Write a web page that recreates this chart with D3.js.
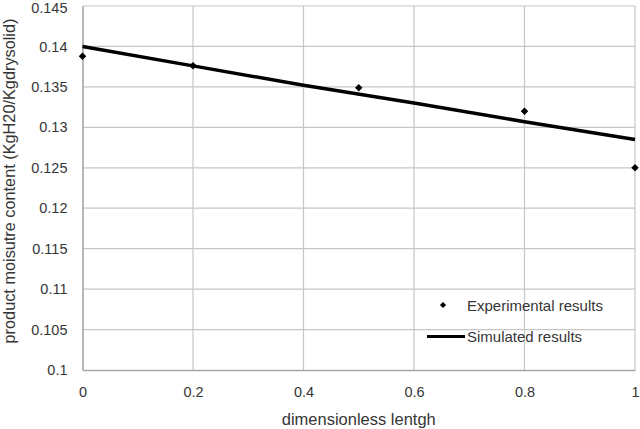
<!DOCTYPE html>
<html><head><meta charset="utf-8">
<script src="https://cdn.jsdelivr.net/npm/d3@7"></script>
<style>body{margin:0;background:#fff}svg{display:block}text{font-family:"Liberation Sans",Arial,sans-serif}</style>
</head><body><svg id="c" width="640" height="429"></svg>
<script>
const xTicks = [0, 0.2, 0.4, 0.6, 0.8, 1];
const yTicks = [0.1, 0.105, 0.11, 0.115, 0.12, 0.125, 0.13, 0.135, 0.14, 0.145];
const expX = [0, 0.2, 0.5, 0.8, 1];
const expY = [0.1388, 0.1376, 0.1349, 0.1320, 0.1250];
const simX = [0, 0.2, 0.4, 0.6, 0.8, 1];
const simY = [0.1400, 0.1376, 0.1352, 0.1330, 0.1307, 0.1285];
const legendLabels = ["Experimental results", "Simulated results"];
const xTitle = "dimensionless lentgh";
const yTitle = "product moisutre content (KgH20/Kgdrysolid)";

const svg = d3.select("#c");
const x = d3.scaleLinear().domain([0, 1]).range([82.5, 635]);
const y = d3.scaleLinear().domain([0.1, 0.145]).range([370, 6]);
const txt = "#363636";

// grid
svg.append("g").selectAll("line").data(yTicks.slice(1)).join("line")
  .attr("x1", x(0)).attr("x2", x(1)).attr("y1", d => y(d)).attr("y2", d => y(d))
  .attr("stroke", "#c6c6c6").attr("stroke-width", 1.2);
svg.append("g").selectAll("line").data(xTicks.slice(1)).join("line")
  .attr("y1", y(0.1)).attr("y2", y(0.145)).attr("x1", d => x(d)).attr("x2", d => x(d))
  .attr("stroke", "#c6c6c6").attr("stroke-width", 1.2);

// axes
const xAxis = svg.append("g").attr("transform", `translate(0,${y(0.1)})`)
  .call(d3.axisBottom(x).tickValues(xTicks).tickSize(0).tickPadding(17).tickFormat(d => String(d)));
xAxis.select(".domain").attr("stroke", "#a6a6a6").attr("stroke-width", 1.6);
const yAxis = svg.append("g").attr("transform", `translate(${x(0)},0)`)
  .call(d3.axisLeft(y).tickValues(yTicks).tickSize(0).tickPadding(15).tickFormat(d => String(d)));
yAxis.select(".domain").attr("stroke", "#a6a6a6").attr("stroke-width", 1.6);
svg.selectAll(".tick text").attr("font-size", 14.5).attr("fill", txt)
  .attr("font-family", "'Liberation Sans', Arial, sans-serif");
yAxis.selectAll(".tick text").filter(d => d === 0.145).attr("dy", "0.45em");

// titles
svg.append("text").attr("x", (x(0) + x(1)) / 2).attr("y", 425).attr("text-anchor", "middle")
  .attr("font-size", 16.5).attr("fill", txt).text(xTitle);
svg.append("text").attr("transform", `translate(15,181) rotate(-90)`)
  .attr("text-anchor", "middle").attr("font-size", 16.3).attr("fill", txt).text(yTitle);

// simulated line
const line = d3.line().x(d => x(d[0])).y(d => y(d[1]));
svg.append("path").datum(simX.map((v, i) => [v, simY[i]])).attr("d", line)
  .attr("fill", "none").attr("stroke", "#000").attr("stroke-width", 3.5);

// experimental points
const diamond = d3.symbol().type(d3.symbolDiamond2).size(36);
svg.append("g").selectAll("path").data(expX.map((v, i) => [v, expY[i]])).join("path")
  .attr("d", diamond).attr("transform", d => `translate(${x(d[0])},${y(d[1])})`).attr("fill", "#000");

// legend
const lg = svg.append("g");
lg.append("path").attr("d", d3.symbol().type(d3.symbolDiamond2).size(24))
  .attr("transform", "translate(443,305)").attr("fill", "#000");
lg.append("line").attr("x1", 427).attr("x2", 465).attr("y1", 336.5).attr("y2", 336.5)
  .attr("stroke", "#000").attr("stroke-width", 3);
lg.selectAll("text").data(legendLabels).join("text")
  .attr("x", 467).attr("y", (d, i) => 310.5 + i * 31.5).attr("font-size", 15).attr("fill", txt)
  .text(d => d);
</script></body></html>
